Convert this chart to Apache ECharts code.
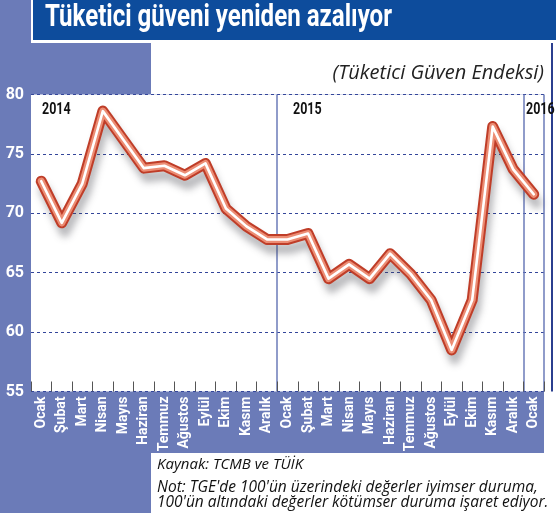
<!DOCTYPE html>
<html>
<head>
<meta charset="utf-8">
<script src="https://cdn.jsdelivr.net/npm/echarts@6/dist/echarts.min.js"></script>
<style>
  html, body { margin: 0; padding: 0; background: #6b7bb8; }
  #chart { width: 556px; height: 513px; }
</style>
</head>
<body>
<div id="chart"></div>
<script>
// Tüketici Güven Endeksi, Ocak 2014 - Ocak 2016
const months = [
  'Ocak', 'Şubat', 'Mart', 'Nisan', 'Mayıs', 'Haziran', 'Temmuz', 'Ağustos', 'Eylül', 'Ekim', 'Kasım', 'Aralık',
  'Ocak', 'Şubat', 'Mart', 'Nisan', 'Mayıs', 'Haziran', 'Temmuz', 'Ağustos', 'Eylül', 'Ekim', 'Kasım', 'Aralık',
  'Ocak'
]
const confidence = [
  72.7, 69.2, 72.5, 78.6, 76.2, 73.8, 74.0, 73.2, 74.2, 70.4, 68.9, 67.8,
  67.8, 68.3, 64.5, 65.7, 64.5, 66.6, 64.9, 62.7, 58.5, 62.7, 77.3, 73.7,
  71.6
]
const years = ['2014', '2015', '2016']
const yearStarts = [0, 12, 24]   // index of each year's first month
const yTicks = [55, 60, 65, 70, 75, 80]

const title = 'Tüketici güveni yeniden azalıyor'
const subtitle = '(Tüketici Güven Endeksi)'
const source = 'Kaynak: TCMB ve TÜİK'
const note = [
  "Not: TGE'de 100'ün üzerindeki değerler iyimser duruma,",
  "100'ün altındaki değerler kötümser duruma işaret ediyor."
]

const BOLD = "Roboto, 'Liberation Sans', sans-serif"
const ITALIC = "'Open Sans', 'Noto Sans', sans-serif"
const BLUE = '#6b7bb8'
const GRID_L = 31, GRID_R = 544, GRID_T = 94.5, GRID_B = 391.5

// squeeze text to a target width (the original uses a condensed face)
const ctx = document.createElement('canvas').getContext('2d')
function squeeze(text, font, width) {
  ctx.font = font
  return width / ctx.measureText(text).width
}

const chart = echarts.init(document.getElementById('chart'), null, { renderer: 'canvas' })

function lineLayer(width, color, extra) {
  return Object.assign({
    type: 'line',
    data: confidence,
    symbol: 'none',
    silent: true,
    lineStyle: { width: width, color: color, cap: 'round', join: 'round' }
  }, extra || {})
}

const yearX = [42, 293, 526]
const yearFont = 'bold 16px ' + BOLD
const yearTexts = years.map((y, i) => ({
  type: 'text',
  x: yearX[i],
  y: 102,
  scaleX: 0.78,
  z: 50,
  style: { text: y, fill: '#111', font: yearFont }
}))

const titleFont = 'bold 31px ' + BOLD

const option = {
  backgroundColor: BLUE,
  animation: false,
  grid: {
    left: GRID_L,
    right: 556 - GRID_R,
    top: GRID_T,
    bottom: 513 - GRID_B,
    show: true,
    backgroundColor: '#fff',
    borderWidth: 0,
    outerBoundsMode: 'none'
  },
  xAxis: {
    type: 'category',
    data: months,
    boundaryGap: true,
    axisLine: { show: false },
    axisTick: {
      show: true,
      inside: true,
      length: 10,
      interval: 0,
      lineStyle: { color: '#555', width: 1 }
    },
    axisLabel: {
      interval: 0,
      rotate: 90,
      margin: 5,
      color: '#fff',
      fontFamily: BOLD,
      fontWeight: 'bold',
      fontSize: 14
    },
    splitLine: {
      show: true,
      interval: (idx) => idx === yearStarts[1] || idx === yearStarts[2],
      lineStyle: { color: BLUE, width: 1.5, type: 'solid' }
    }
  },
  yAxis: {
    type: 'value',
    min: yTicks[0],
    max: yTicks[yTicks.length - 1],
    interval: 5,
    axisLine: { show: false },
    axisTick: { show: false },
    axisLabel: {
      color: '#fff',
      margin: 7,
      fontFamily: BOLD,
      fontWeight: 'bold',
      fontSize: 16
    },
    splitLine: {
      show: true,
      lineStyle: { color: '#34469a', width: 1, type: [3, 3] }
    }
  },
  series: [
    lineLayer(11, '#bf3d28', {
      z: 3,
      lineStyle: {
        width: 11, color: '#bf3d28', cap: 'round', join: 'round',
        shadowColor: 'rgba(60,60,70,0.35)', shadowBlur: 7, shadowOffsetX: 3, shadowOffsetY: 9
      }
    }),
    lineLayer(7, '#ec8d74', { z: 4 }),
    lineLayer(2.6, '#ffffff', { z: 5 })
  ],
  graphic: [
    // title bar with white frame
    { type: 'rect', shape: { x: 31, y: 0, width: 525, height: 43 }, style: { fill: '#fff' }, z: -1 },
    { type: 'rect', shape: { x: 33, y: 0, width: 523, height: 40 }, style: { fill: '#0d4c9c' }, z: -1 },
    // white band under title
    { type: 'rect', shape: { x: 151, y: 43, width: 405, height: GRID_T - 43 }, style: { fill: '#fff' }, z: -1 },
    // white strip on the right
    { type: 'rect', shape: { x: GRID_R, y: 43, width: 556 - GRID_R, height: 410 }, style: { fill: '#fff' }, z: -1 },
    { type: 'rect', shape: { x: 551, y: 43, width: 2, height: GRID_B - 43 }, style: { fill: '#2b3f8f' }, z: -1 },
    // notes box
    { type: 'rect', shape: { x: 151, y: 453, width: 405, height: 60 }, style: { fill: '#fff' }, z: -1 },
    {
      type: 'text', x: 45, y: 3, z: 50,
      scaleX: squeeze(title, titleFont, 347),
      style: { text: title, fill: '#fff', font: titleFont }
    },
    {
      type: 'text', right: 12, top: 63, z: 50,
      style: { text: subtitle, fill: '#222', font: 'italic 20px ' + ITALIC }
    },
    {
      type: 'text', left: 157, top: 457, z: 50,
      style: { text: source, fill: '#111', font: 'italic 15px ' + ITALIC }
    },
    {
      type: 'text', left: 157, top: 480, z: 50,
      style: { text: note.join('\n'), fill: '#111', font: 'italic 15.5px ' + ITALIC, lineHeight: 15 }
    }
  ].concat(yearTexts)
}

chart.setOption(option)
</script>
</body>
</html>
